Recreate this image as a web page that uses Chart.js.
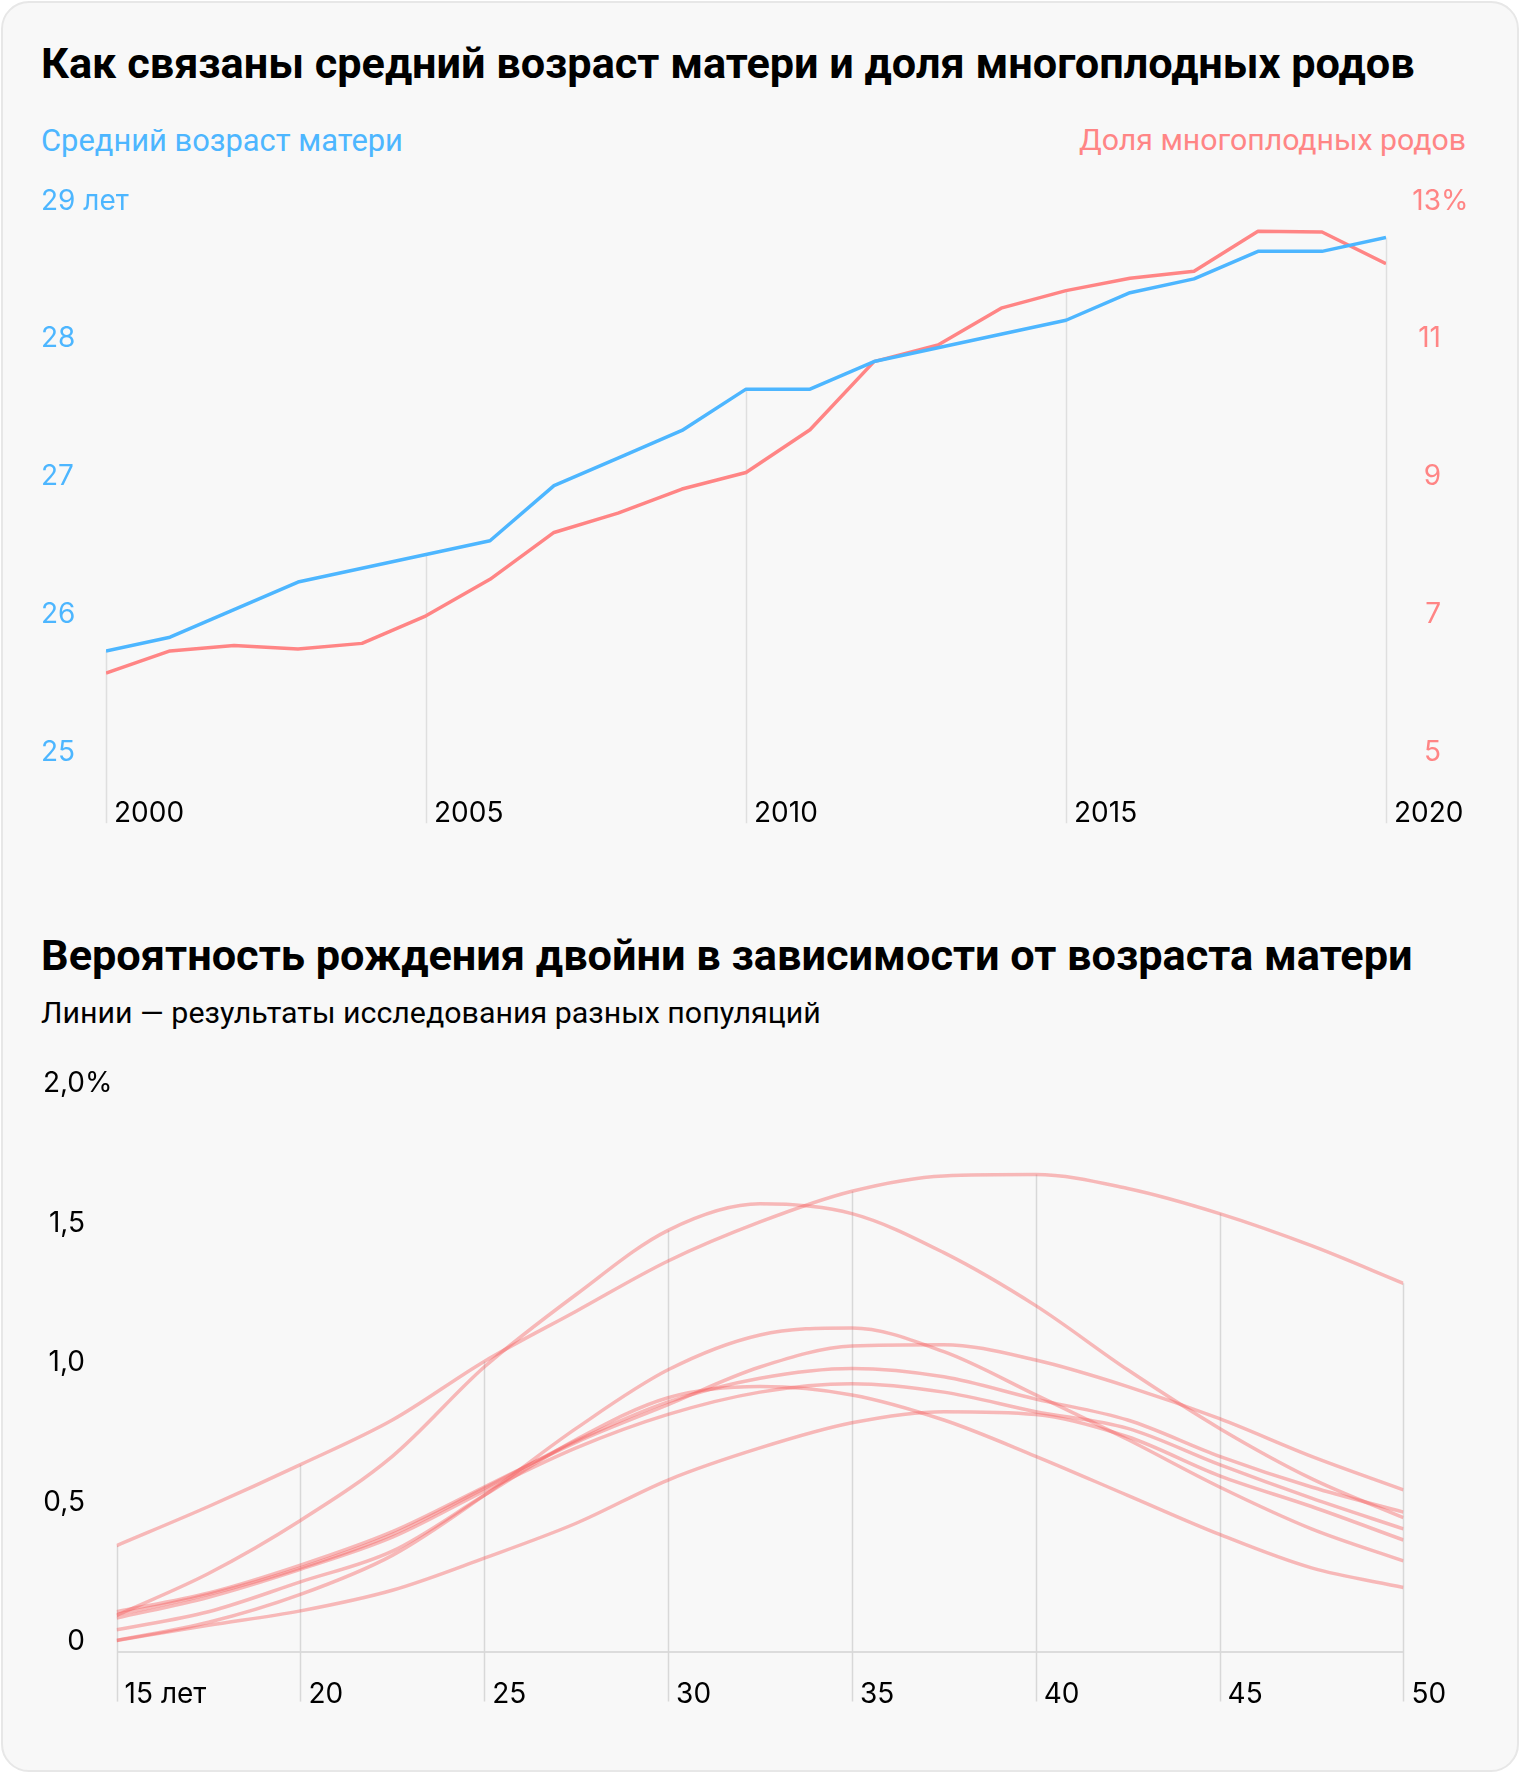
<!DOCTYPE html>
<html><head><meta charset="utf-8">
<script src="https://cdn.jsdelivr.net/npm/chart.js@4.4.1/dist/chart.umd.min.js"></script>
<style>
html,body{margin:0;padding:0;background:#fff;}
body{width:1520px;height:1774px;position:relative;overflow:hidden;font-family:Roboto,"Noto Sans",sans-serif;}
#card{position:absolute;left:1px;top:1px;width:1518px;height:1771px;box-sizing:border-box;border:2px solid #e7e7e7;border-radius:28px;background:#f8f8f8;}
.txt{position:absolute;white-space:nowrap;line-height:1.2;font-size:40px;}
canvas{position:absolute;left:0;}
</style></head><body>
<div id="card"></div>
<div class="txt" id="title1" data-w="1374" data-cy="64" data-left="41" style="font-weight:700;color:#000;">Как связаны средний возраст матери и доля многоплодных родов</div>
<div class="txt" id="ax1" data-w="362" data-cy="140" data-left="41" style="color:#4db6ff;">Средний возраст матери</div>
<div class="txt" id="ax2" data-w="387" data-cy="140" data-right="1466" style="color:#ff8585;">Доля многоплодных родов</div>
<div class="txt" id="title2" data-w="1372" data-cy="956" data-left="41" style="font-weight:700;color:#000;">Вероятность рождения двойни в зависимости от возраста матери</div>
<div class="txt" id="sub2" data-w="780" data-cy="1013" data-left="41" style="color:#000;">Линии — результаты исследования разных популяций</div>
<canvas id="c1" width="1520" height="860" style="top:0"></canvas>
<canvas id="c2" width="1520" height="700" style="top:1040px"></canvas>
<script>
// ---------- DATA ----------
const years = [2000,2001,2002,2003,2004,2005,2006,2007,2008,2009,2010,2011,2012,2013,2014,2015,2016,2017,2018,2019,2020];
const motherAge = [25.8,25.9,26.1,26.3,26.4,26.5,26.6,27.0,27.2,27.4,27.7,27.7,27.9,28.0,28.1,28.2,28.4,28.5,28.7,28.7,28.8];
const multipleShare = [6.28,6.60,6.68,6.63,6.71,7.11,7.64,8.32,8.60,8.95,9.19,9.81,10.80,11.04,11.58,11.83,12.01,12.11,12.69,12.68,12.22];
const ageUnit = ' лет';
const pctUnit = '%';

const ages = [15,17.5,20,22.5,25,27.5,30,32.5,35,37.5,40,42.5,45,47.5,50];
const studyA = [0.38,0.52,0.67,0.83,1.04,1.22,1.40,1.54,1.65,1.705,1.71,1.66,1.57,1.455,1.32];
const studyB = [0.13,0.28,0.47,0.70,1.02,1.28,1.51,1.605,1.57,1.43,1.24,1.01,0.80,0.62,0.48];
const studyC = [0.04,0.105,0.205,0.345,0.56,0.80,1.01,1.135,1.16,1.075,0.92,0.76,0.59,0.44,0.325];
const studyD = [0.143,0.21,0.31,0.43,0.59,0.75,0.885,1.02,1.095,1.10,1.045,0.95,0.835,0.70,0.58];
const studyE = [0.132,0.205,0.30,0.42,0.585,0.755,0.895,0.98,1.015,0.985,0.905,0.83,0.70,0.59,0.50];
const studyF = [0.12,0.195,0.295,0.41,0.575,0.73,0.85,0.93,0.96,0.93,0.86,0.80,0.67,0.55,0.44];
const studyG = [0.078,0.143,0.25,0.36,0.56,0.76,0.91,0.95,0.92,0.83,0.70,0.56,0.42,0.30,0.23];
const studyH = [0.04,0.094,0.146,0.22,0.335,0.46,0.615,0.73,0.82,0.86,0.85,0.77,0.63,0.52,0.40];
const studies = [studyA,studyB,studyC,studyD,studyE,studyF,studyG,studyH];

// ---------- STYLE ----------
const BLUE = '#4db6ff', RED = '#ff8585', PINK = 'rgba(245,95,95,0.42)';
const FONT = {family: 'Inter', size: 28};
const FONT_CSS = FONT.size + 'px ' + FONT.family;

// fit html texts
document.querySelectorAll('.txt').forEach(el => {
  const w = +el.dataset.w, cy = +el.dataset.cy;
  const m = el.getBoundingClientRect().width;
  const fs = 40 * w / m;
  el.style.fontSize = fs.toFixed(2) + 'px';
  el.style.top = (cy - fs * 1.2 / 2).toFixed(1) + 'px';
  const realW = el.getBoundingClientRect().width;
  if (el.dataset.right) el.style.left = (+el.dataset.right - realW) + 'px';
  else el.style.left = el.dataset.left + 'px';
});

// ---------- TOP CHART ----------
const TOP_OFF = -8.9;
const topGrid = {
  id: 'topGrid',
  beforeDatasetsDraw(chart) {
    const {ctx, chartArea, scales: {x, y, y1}} = chart;
    ctx.save();
    ctx.strokeStyle = '#dfdfdf';
    ctx.lineWidth = 1.5;
    x.ticks.forEach(t => {
      const i = years.indexOf(t.value);
      if (i < 0) return;
      const px = Math.round(x.getPixelForValue(t.value)) + 0.5;
      const top = Math.min(y.getPixelForValue(motherAge[i]), y1.getPixelForValue(multipleShare[i]));
      ctx.beginPath(); ctx.moveTo(px, top); ctx.lineTo(px, chartArea.bottom + 62); ctx.stroke();
    });
    ctx.restore();
  },
  afterDraw(chart) {
    const {ctx, scales: {y, y1}} = chart;
    ctx.save();
    ctx.font = FONT_CSS;
    ctx.textBaseline = 'middle'; ctx.textAlign = 'left';
    ctx.fillStyle = RED;
    ctx.fillText(pctUnit, y1.right, y1.getPixelForValue(y1.max) + TOP_OFF);
    ctx.fillStyle = BLUE;
    const w = ctx.measureText(String(y.max)).width;
    ctx.fillText(ageUnit, y.left + w, y.getPixelForValue(y.max) + TOP_OFF);
    ctx.restore();
  }
};

new Chart(document.getElementById('c1'), {
  type: 'line',
  data: {datasets: [
    {label: 'Средний возраст матери', yAxisID: 'y', data: years.map((x, i) => ({x, y: motherAge[i]})),
     borderColor: BLUE, borderWidth: 3.5, pointRadius: 0, tension: 0, borderJoinStyle: 'round'},
    {label: 'Доля многоплодных родов', yAxisID: 'y1', data: years.map((x, i) => ({x, y: multipleShare[i]})),
     borderColor: RED, borderWidth: 3.5, pointRadius: 0, tension: 0, borderJoinStyle: 'round'}
  ]},
  options: {
    responsive: false, animation: false, devicePixelRatio: 1,
    layout: {padding: {left: 41, right: 79, top: 210, bottom: 8.8}},
    plugins: {legend: {display: false}, tooltip: {enabled: false}},
    scales: {
      x: {type: 'linear', min: 2000, max: 2020, grid: {display: false}, border: {display: false},
          ticks: {stepSize: 5, align: 'start', labelOffset: 8, padding: 28, maxRotation: 0, autoSkip: false,
                  color: '#000', font: FONT, callback: v => String(v)},
          afterFit: s => { s.height = 90; }},
      y: {position: 'left', min: 25, max: 29, grid: {display: false}, border: {display: false},
          ticks: {stepSize: 1, crossAlign: 'far', labelOffset: TOP_OFF, color: BLUE, font: FONT, callback: v => String(v)},
          afterFit: s => { s.width = 65; }},
      y1: {position: 'right', min: 5, max: 13, grid: {display: false}, border: {display: false},
           ticks: {stepSize: 2, crossAlign: 'far', labelOffset: TOP_OFF, color: RED, font: FONT, callback: v => String(v)},
           afterFit: s => { s.width = 55; }}
    }
  },
  plugins: [topGrid]
});

// ---------- BOTTOM CHART ----------
const Y_PAD = 31.6;
const BOT_OFF = -9.6;
const botGrid = {
  id: 'botGrid',
  beforeDatasetsDraw(chart) {
    const {ctx, chartArea, scales: {x, y}} = chart;
    ctx.save();
    ctx.strokeStyle = '#d8d8d8';
    ctx.lineWidth = 1.5;
    x.ticks.forEach(t => {
      const i = ages.indexOf(t.value);
      if (i < 0) return;
      const px = Math.round(x.getPixelForValue(t.value)) + 0.5;
      const top = Math.min(...studies.map(s => y.getPixelForValue(s[i])));
      ctx.beginPath(); ctx.moveTo(px, top); ctx.lineTo(px, chartArea.bottom + 50); ctx.stroke();
    });
    ctx.restore();
  },
  afterDraw(chart) {
    const {ctx, scales: {y}} = chart;
    ctx.save();
    ctx.font = FONT_CSS;
    ctx.fillStyle = '#000'; ctx.textAlign = 'left'; ctx.textBaseline = 'middle';
    ctx.fillText(pctUnit, y.right - Y_PAD, y.getPixelForValue(y.max) + BOT_OFF);
    ctx.restore();
  }
};

new Chart(document.getElementById('c2'), {
  type: 'line',
  data: {datasets: studies.map((s, k) => ({
    label: 'Популяция ' + (k + 1), data: ages.map((x, i) => ({x, y: s[i]})),
    borderColor: PINK, borderWidth: 3.5, pointRadius: 0, cubicInterpolationMode: 'monotone'
  }))},
  options: {
    responsive: false, animation: false, devicePixelRatio: 1,
    layout: {padding: {left: 41, right: 116.6, top: 53.6, bottom: 8.4}},
    plugins: {legend: {display: false}, tooltip: {enabled: false}},
    scales: {
      x: {type: 'linear', min: 15, max: 50, grid: {display: false}, border: {display: false},
          ticks: {stepSize: 5, align: 'start', labelOffset: 8, padding: 18, maxRotation: 0, autoSkip: false,
                  color: '#000', font: FONT, callback: v => v === 15 ? '15' + ageUnit : String(v)},
          afterFit: s => { s.height = 80; }},
      y: {min: 0, max: 2, border: {display: false},
          grid: {drawTicks: false, lineWidth: 2, color: c => (c.tick && c.tick.value === 0) ? '#dcdcdc' : 'rgba(0,0,0,0)'},
          ticks: {stepSize: 0.5, padding: Y_PAD, labelOffset: BOT_OFF, color: '#000', font: FONT,
                  callback: v => v === 0 ? '0' : v.toFixed(1).replace('.', ',')},
          afterFit: s => { s.width = 75.6; }}
    }
  },
  plugins: [botGrid]
});
</script>
</body></html>
